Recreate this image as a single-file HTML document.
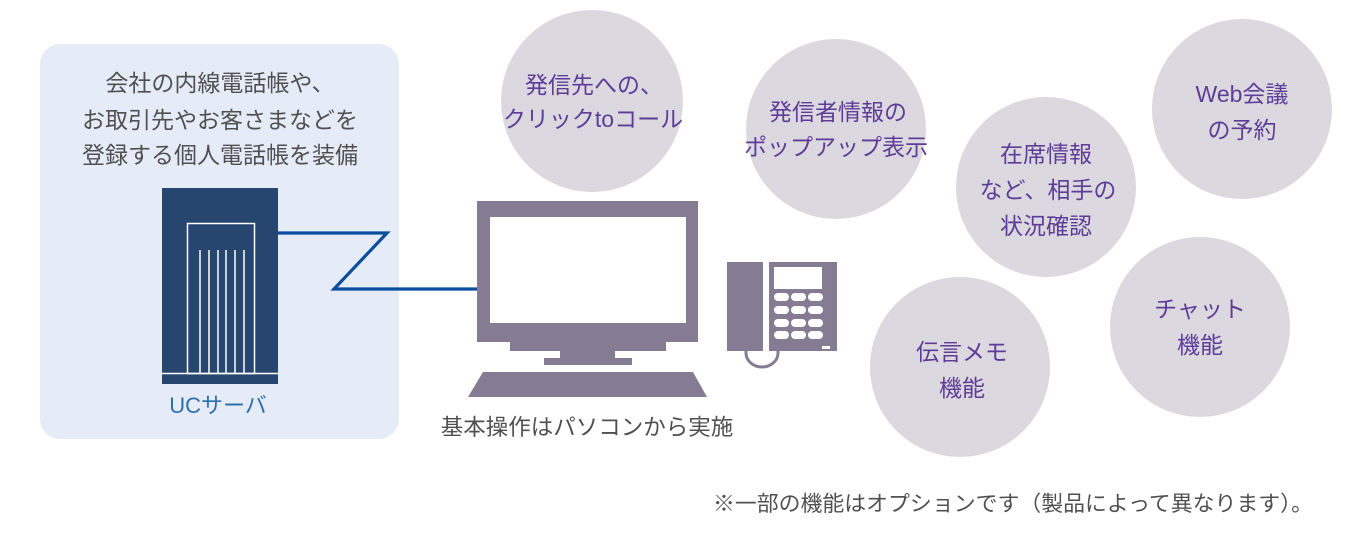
<!DOCTYPE html>
<html><head><meta charset="utf-8"><style>
html,body{margin:0;padding:0;background:#fff;width:1366px;height:550px;overflow:hidden}
svg{display:block}
text{font-family:"Liberation Sans","Noto Sans CJK JP",sans-serif}
</style></head><body>
<svg width="1366" height="550" viewBox="0 0 1366 550" xmlns="http://www.w3.org/2000/svg">
<!-- left panel -->
<rect x="40" y="44" width="359" height="395" rx="20" ry="20" fill="#e5ecf7"/>
<g fill="#505050" font-size="23" text-anchor="middle">
<text x="220" y="91">会社の内線電話帳や、</text>
<text x="220" y="128">お取引先やお客さまなどを</text>
<text x="220" y="163">登録する個人電話帳を装備</text>
</g>
<!-- server -->
<rect x="162" y="188" width="116" height="196" fill="#26466f"/>
<rect x="187.5" y="223.5" width="67" height="150" fill="none" stroke="#fff" stroke-width="1.5"/>
<line x1="162" y1="373.5" x2="278" y2="373.5" stroke="#fff" stroke-width="1.5"/>
<g stroke="#fff" stroke-width="1.5">
<line x1="200" y1="250" x2="200" y2="373"/>
<line x1="209" y1="250" x2="209" y2="373"/>
<line x1="218" y1="250" x2="218" y2="373"/>
<line x1="226" y1="250" x2="226" y2="373"/>
<line x1="235" y1="250" x2="235" y2="373"/>
<line x1="244" y1="250" x2="244" y2="373"/>
</g>
<text x="218" y="413" fill="#2c6fae" font-size="22" text-anchor="middle">UCサーバ</text>
<!-- connector -->
<polyline points="278,233 387,233 334,289 478,289" fill="none" stroke="#0b4d9e" stroke-width="3.2" stroke-linejoin="miter"/>
<!-- monitor -->
<g fill="#857b93">
<rect x="477" y="201" width="221" height="141"/>
<rect x="510" y="341" width="156" height="10"/>
<rect x="560" y="350" width="55" height="9"/>
<rect x="544" y="358" width="88" height="7"/>
<polygon points="483,372 693,372 707,397 468,397"/>
</g>
<rect x="490" y="217" width="196" height="106" fill="#fff"/>
<!-- phone -->
<g fill="#857b93">
<rect x="727" y="262" width="36" height="89"/>
<rect x="769" y="262" width="68" height="89"/>
</g>
<path d="M746 351 v2 a16 14 0 0 0 32 0 v-2" fill="none" stroke="#857b93" stroke-width="3"/>
<rect x="774" y="267" width="48" height="22" fill="#fff"/>
<g fill="#fff">
<rect x="774" y="293" width="15" height="8" rx="4"/><rect x="791" y="293" width="15" height="8" rx="4"/><rect x="808" y="293" width="15" height="8" rx="4"/>
<rect x="774" y="306" width="15" height="8" rx="4"/><rect x="791" y="306" width="15" height="8" rx="4"/><rect x="808" y="306" width="15" height="8" rx="4"/>
<rect x="774" y="319" width="15" height="8" rx="4"/><rect x="791" y="319" width="15" height="8" rx="4"/><rect x="808" y="319" width="15" height="8" rx="4"/>
<rect x="774" y="331" width="15" height="8" rx="4"/><rect x="791" y="331" width="15" height="8" rx="4"/><rect x="808" y="331" width="15" height="8" rx="4"/>
<rect x="822" y="346" width="8" height="3"/>
</g>
<text x="587" y="435" fill="#505050" font-size="22.5" text-anchor="middle">基本操作はパソコンから実施</text>
<!-- circles -->
<g fill="#dbd8df">
<circle cx="592" cy="101" r="91"/>
<circle cx="836" cy="129" r="90"/>
<circle cx="1046" cy="187" r="90"/>
<circle cx="1242" cy="109" r="90"/>
<circle cx="960" cy="367" r="90"/>
<circle cx="1200" cy="327" r="90"/>
</g>
<g fill="#5e3d98" font-size="23" text-anchor="middle">
<text x="594" y="93">発信先への、</text>
<text x="593" y="127">クリックtoコール</text>
<text x="838" y="120">発信者情報の</text>
<text x="836" y="155">ポップアップ表示</text>
<text x="1046" y="162">在席情報</text>
<text x="1048" y="198">など、相手の</text>
<text x="1046" y="234">状況確認</text>
<text x="1242" y="102">Web会議</text>
<text x="1242" y="138">の予約</text>
<text x="962" y="360">伝言メモ</text>
<text x="962" y="396">機能</text>
<text x="1200" y="317">チャット</text>
<text x="1200" y="353">機能</text>
</g>
<text x="713" y="511" fill="#505050" font-size="21.5" textLength="600" lengthAdjust="spacingAndGlyphs">※一部の機能はオプションです（製品によって異なります）。</text>
</svg>
</body></html>
